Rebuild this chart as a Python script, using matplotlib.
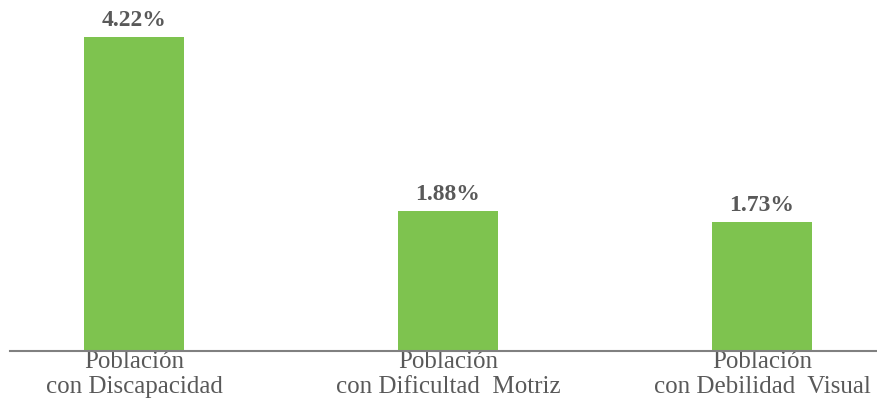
import matplotlib.pyplot as plt

# data
categories = ['Población\ncon Discapacidad',
              'Población\ncon Dificultad  Motriz',
              'Población\ncon Debilidad  Visual']
values = [4.22, 1.88, 1.73]
value_labels = ['4.22%', '1.88%', '1.73%']

plt.rcParams['font.family'] = ['Liberation Serif', 'DejaVu Serif']

fig = plt.figure(figsize=(8.77, 4.06), dpi=100)
ax = fig.add_axes([10 / 877, 54 / 406, 867 / 877, 352 / 406])

x = range(len(categories))
bars = ax.bar(x, values, width=0.318, color='#7EC34F')

# bold value labels above each bar
for b, lab in zip(bars, value_labels):
    ax.annotate(lab, (b.get_x() + b.get_width() / 2, b.get_height()),
                xytext=(0, 8.6), textcoords='offset points',
                ha='center', va='baseline', fontsize=17,
                fontweight='bold', color='#595959')

ax.set_xlim(-0.395, 2.366)
ax.set_ylim(0, 4.22 * 352 / 314)
ax.set_xticks(list(x))
ax.set_xticklabels(categories, fontsize=18, color='#595959', linespacing=1.17)
ax.tick_params(axis='x', length=0, pad=-1)
ax.set_yticks([])

for s in ['top', 'right', 'left']:
    ax.spines[s].set_visible(False)
ax.spines['bottom'].set_color('#808080')
ax.spines['bottom'].set_linewidth(1.5)

plt.savefig('out.png', dpi=100)
